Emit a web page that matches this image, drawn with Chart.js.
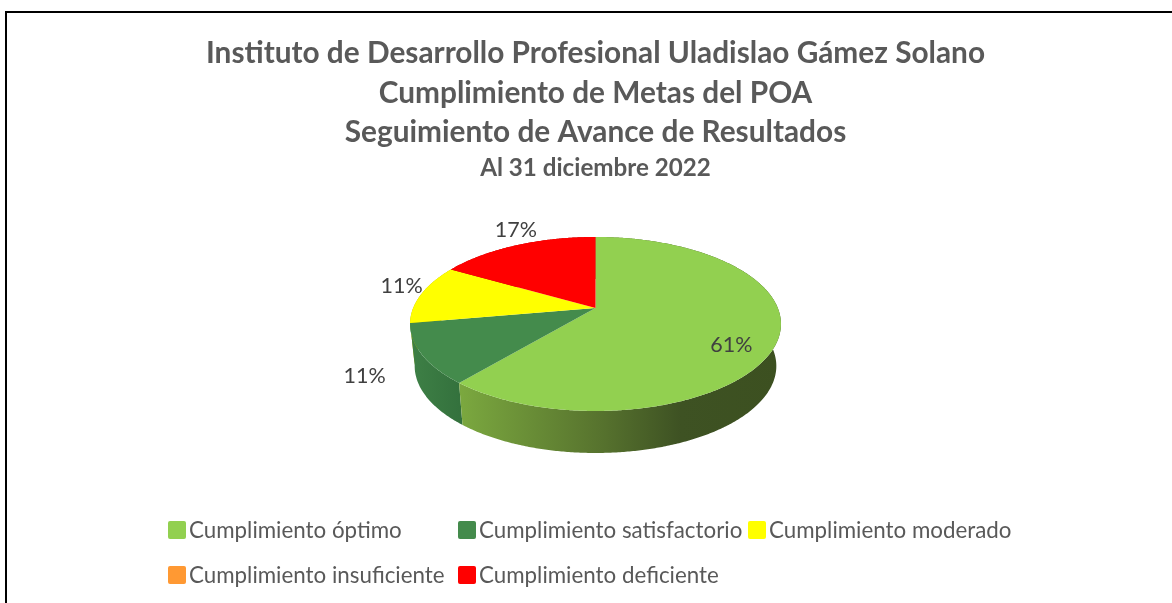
<!DOCTYPE html>
<html lang="es"><head><meta charset="utf-8">
<style>html,body{margin:0;padding:0;background:#fff}canvas{display:block}</style>
<script src="https://cdn.jsdelivr.net/npm/chart.js@4"></script>
</head><body><canvas id="c" width="1172" height="603"></canvas>
<script>
const titleLines = ["Instituto de Desarrollo Profesional Uladislao Gámez Solano","Cumplimiento de Metas del POA","Seguimiento de Avance de Resultados"];
const subtitleLine = "Al 31 diciembre 2022";
const categories = ["Cumplimiento óptimo","Cumplimiento satisfactorio","Cumplimiento moderado","Cumplimiento insuficiente","Cumplimiento deficiente"];
const values = [11,2,2,0,3];
const sliceColors = ["#92D050","#448B4C","#FFFF00","#FF9933","#FF0000"];

const FONT = "Lato, Carlito, sans-serif";
const legendSlots = [[168,530],[458,530],[748,530],[168,575],[458,575]];
const labelOffsets = [[-47,5],[-57,21],[-20,-9],[0,0],[-1,-16]];
const wallStops = [
  [[460,"#7BA83F"],[600,"#57732E"],[680,"#3E5223"],[781,"#3C5020"]],
  [[410,"#3E8046"],[465,"#33703C"]],
  [[410,"#B3B300"],[465,"#B3B300"]],
  [[410,"#B36B24"],[465,"#B36B24"]],
  [[410,"#B30000"],[465,"#B30000"]]
];
const P = 0.184, YSCALE = 0.4612;
const BOTTOM = {p:0.184, scale:0.975, ydrop:42, yscale:0.4612};

function rim(arc, a){
  const u=Math.cos(a), v=Math.sin(a), w=1-P*v, R=arc.outerRadius;
  return [arc.x+R*u/w, arc.y+R*YSCALE*v/w];
}
function rimLow(arc, a){
  const u=Math.cos(a), v=Math.sin(a), w=1-BOTTOM.p*v, R=arc.outerRadius;
  return [arc.x+R*BOTTOM.scale*u/w, arc.y+BOTTOM.ydrop+R*BOTTOM.yscale*v/w];
}
const STEP = Math.PI/360;
function sweep(s,e){const out=[];const n=Math.max(1,Math.ceil((e-s)/STEP));for(let i=0;i<=n;i++)out.push(s+(e-s)*i/n);return out;}

const pie3d = {
  id:"pie3d",
  beforeDraw(chart){
    const c=chart.ctx; c.save();
    c.fillStyle="#fff"; c.fillRect(0,0,chart.width,chart.height);
    c.strokeStyle="#000"; c.lineWidth=2;
    c.beginPath(); c.moveTo(chart.width,12); c.lineTo(6,12); c.lineTo(6,chart.height); c.stroke();
    c.restore();
  },
  beforeDatasetDraw(chart,args){
    const c=chart.ctx, arcs=args.meta.data;
    c.save();
    for(let i=arcs.length-1;i>=0;i--){
      const arc=arcs[i];
      if(arc.endAngle-arc.startAngle<=0) continue;
      const x0=wallStops[i][0][0], x1=wallStops[i][wallStops[i].length-1][0];
      const g=c.createLinearGradient(x0,0,x1,0);
      wallStops[i].forEach(s=>g.addColorStop((s[0]-x0)/(x1-x0),s[1]));
      const as=sweep(arc.startAngle,arc.endAngle);
      c.beginPath();
      as.forEach((a,k)=>{const p=rim(arc,a);k?c.lineTo(p[0],p[1]):c.moveTo(p[0],p[1]);});
      as.slice().reverse().forEach(a=>{const p=rimLow(arc,a);c.lineTo(p[0],p[1]);});
      c.closePath(); c.fillStyle=g; c.fill();
    }
    arcs.forEach((arc,i)=>{
      if(arc.endAngle-arc.startAngle<=0) return;
      c.beginPath(); c.moveTo(arc.x,arc.y);
      sweep(arc.startAngle,arc.endAngle).forEach(a=>{const p=rim(arc,a);c.lineTo(p[0],p[1]);});
      c.closePath(); c.fillStyle=arc.options.backgroundColor; c.fill();
    });
    c.fillStyle="#404040"; c.font="21.5px "+FONT; c.textAlign="center"; c.textBaseline="middle";
    const total=values.reduce((s,v)=>s+v,0);
    arcs.forEach((arc,i)=>{
      if(!values[i]) return;
      const p=rim(arc,(arc.startAngle+arc.endAngle)/2);
      c.fillText(Math.round(values[i]/total*100)+"%",p[0]+labelOffsets[i][0],p[1]+labelOffsets[i][1]+1);
    });
    c.restore();
    return false;
  },
  afterDraw(chart){
    const c=chart.ctx; c.save();
    c.font="22.35px "+FONT; c.textBaseline="middle"; c.textAlign="left";
    categories.forEach((t,i)=>{
      const [x,y]=legendSlots[i];
      c.fillStyle=sliceColors[i];
      c.beginPath(); c.roundRect(x,y-9,18,18,2); c.fill();
      c.fillStyle="#595959"; c.fillText(t,x+21,y+1);
    });
    c.restore();
  }
};

new Chart(document.getElementById("c"),{
  type:"pie",
  data:{labels:categories,datasets:[{data:values,backgroundColor:sliceColors,borderWidth:0,radius:182.3}]},
  options:{
    responsive:false,animation:false,events:[],
    layout:{padding:{left:19,right:0,top:16,bottom:171}},
    plugins:{
      legend:{display:false},tooltip:{enabled:false},
      title:{display:true,text:titleLines,color:"#595959",font:{family:FONT,size:29.8,weight:"bold",lineHeight:1.325},padding:{top:18,bottom:0}},
      subtitle:{display:true,text:subtitleLine,color:"#595959",font:{family:FONT,size:24.2,weight:"bold",lineHeight:1.3},padding:{top:0,bottom:0}}
    }
  },
  plugins:[pie3d]
});
</script></body></html>
